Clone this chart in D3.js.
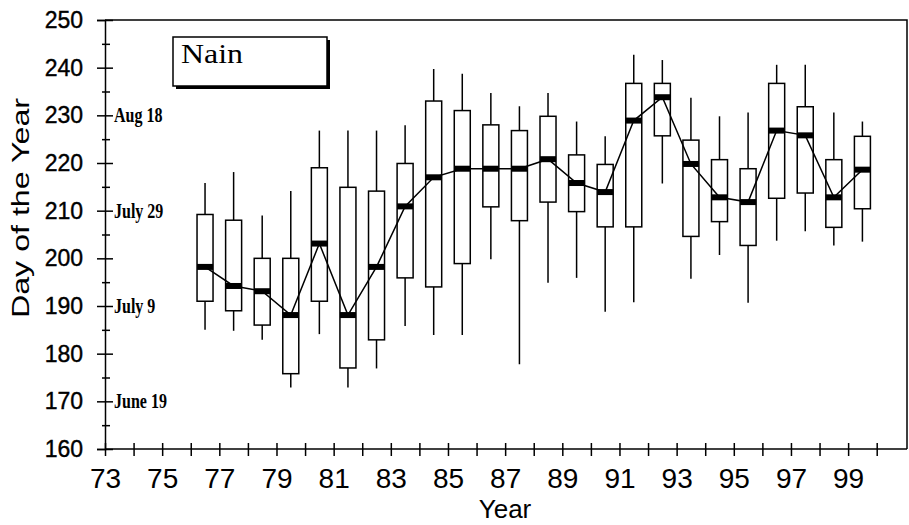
<!DOCTYPE html>
<html>
<head>
<meta charset="utf-8">
<script src="https://cdn.jsdelivr.net/npm/d3@7"></script>
<style>
  body { margin: 0; background: #fff; }
  svg { display: block; }
</style>
</head>
<body>
<script>
// box plot values, one entry per year
const years     = [76, 77, 78, 79, 80, 81, 82, 83, 84, 85, 86, 87, 88, 89, 90, 91, 92, 93, 94, 95, 96, 97, 98, 99];
const whiskerHi = [215.8, 218.1, 209.0, 214.1, 226.8, 226.8, 226.8, 227.9, 239.7, 238.7, 234.7, 231.9, 234.7, 228.7, 225.6, 242.7, 241.6, 233.7, 229.8, 230.6, 240.6, 240.6, 230.6, 228.7];
const boxHi     = [209.2, 208.0, 200.0, 200.0, 219.0, 214.9, 214.1, 219.9, 233.0, 231.0, 228.0, 226.8, 229.8, 221.7, 219.7, 236.7, 236.7, 224.8, 220.7, 218.8, 236.7, 231.8, 220.7, 225.6];
const medians   = [198.2, 194.2, 193.1, 188.1, 203.1, 188.1, 198.2, 210.9, 217.0, 218.8, 218.8, 218.8, 220.8, 215.8, 213.9, 228.9, 233.8, 219.8, 212.8, 211.8, 226.8, 225.8, 212.8, 218.6];
const boxLo     = [191.0, 189.0, 186.0, 175.8, 191.0, 177.0, 182.9, 195.9, 194.0, 198.9, 210.8, 207.9, 211.8, 209.8, 206.6, 206.6, 225.7, 204.6, 207.7, 202.7, 212.6, 213.7, 206.5, 210.4];
const whiskerLo = [185.0, 184.8, 182.9, 172.9, 184.1, 172.9, 176.9, 185.8, 183.9, 183.9, 199.8, 177.8, 194.9, 195.9, 188.8, 190.8, 215.7, 195.7, 200.7, 190.7, 203.7, 205.7, 202.7, 203.5];

const yTicks = [160, 170, 180, 190, 200, 210, 220, 230, 240, 250];
const yMinorTicks = [165, 175, 185, 195, 205, 215, 225, 235, 245];
const xTicks = d3.range(73, 101);
const xLabels = [73, 75, 77, 79, 81, 83, 85, 87, 89, 91, 93, 95, 97, 99];
const dateTicks = [230, 210, 190, 170];
const dateLabels = ['Aug 18', 'July 29', 'July 9', 'June 19'];

const w = 909,
      h = 525,
      mLeft = 105,
      mRight = 907,
      mTop = 20,
      mBottom = 449;

const svg = d3.select('body')
            .append('svg')
            .attr('width', w)
            .attr('height', h);

const xScale = d3.scaleLinear()
                .domain([73, 101.06])
                .range([mLeft, mRight]);
const yScale = d3.scaleLinear()
                .domain([160, 250])
                .range([mBottom, mTop]);

const data = years.map((yr, i) => ({
  yr: yr, hi: whiskerHi[i], q3: boxHi[i], med: medians[i], q1: boxLo[i], lo: whiskerLo[i]
}));

const boxW = xScale(73.56) - xScale(73);

// frame top and right
svg.append('path')
    .attr('d', 'M' + mLeft + ',' + mTop + 'H' + mRight + 'V' + mBottom)
    .attr('fill', 'none')
    .attr('stroke', '#000')
    .attr('stroke-width', 1.5);

// whiskers
svg.selectAll('line.whisker')
    .data(data)
    .enter()
    .append('line')
    .attr('class', 'whisker')
    .attr('x1', d => xScale(d.yr + 0.5))
    .attr('x2', d => xScale(d.yr + 0.5))
    .attr('y1', d => yScale(d.hi))
    .attr('y2', d => yScale(d.lo))
    .attr('stroke', '#000')
    .attr('stroke-width', 1.5);

// boxes
svg.selectAll('rect.box')
    .data(data)
    .enter()
    .append('rect')
    .attr('class', 'box')
    .attr('x', d => xScale(d.yr + 0.5) - boxW / 2)
    .attr('y', d => yScale(d.q3))
    .attr('width', boxW)
    .attr('height', d => yScale(d.q1) - yScale(d.q3))
    .attr('fill', '#fff')
    .attr('stroke', '#000')
    .attr('stroke-width', 1.5);

// median line
const line = d3.line()
    .x(d => xScale(d.yr + 0.5))
    .y(d => yScale(d.med));
svg.append('path')
    .datum(data)
    .attr('d', line)
    .attr('fill', 'none')
    .attr('stroke', '#000')
    .attr('stroke-width', 1.5);

// median markers
svg.selectAll('rect.med')
    .data(data)
    .enter()
    .append('rect')
    .attr('class', 'med')
    .attr('x', d => xScale(d.yr + 0.5) - boxW / 2)
    .attr('y', d => yScale(d.med) - 3)
    .attr('width', boxW)
    .attr('height', 6)
    .attr('fill', '#000');

// y axis
const yAxis = d3.axisLeft(yScale)
                .tickValues(yTicks)
                .tickSize(8)
                .tickPadding(14)
                .tickFormat(d3.format('d'));
const gy = svg.append('g')
    .attr('transform', 'translate(' + mLeft + ',0)')
    .call(yAxis);
gy.selectAll('line').attr('x1', 8).attr('x2', -8);
gy.selectAll('text')
    .attr('font-family', '"Liberation Sans", Arial, sans-serif')
    .attr('font-size', 23)
    .attr('stroke', '#000')
    .attr('stroke-width', 0.4)
    .attr('fill', '#000');

const yMinor = d3.axisLeft(yScale)
                .tickValues(yMinorTicks)
                .tickSize(3)
                .tickFormat('');
const gym = svg.append('g')
    .attr('transform', 'translate(' + mLeft + ',0)')
    .call(yMinor);
gym.select('.domain').remove();
gym.selectAll('line').attr('x1', 5).attr('x2', -3);

svg.selectAll('g .domain').attr('stroke-width', 1.5);
svg.selectAll('g .tick line').attr('stroke', '#000').attr('stroke-width', 1.5);

// date labels inside the plot
svg.selectAll('text.date')
    .data(dateTicks)
    .enter()
    .append('text')
    .attr('class', 'date')
    .attr('transform', d => 'translate(' + (mLeft + 9) + ',' + yScale(d) + ') scale(1,1.25)')
    .attr('dy', '0.35em')
    .attr('font-family', '"Liberation Serif", "Times New Roman", serif')
    .attr('font-weight', 'bold')
    .attr('font-size', 16)
    .text((d, i) => dateLabels[i]);

// x axis
const xAxis = d3.axisBottom(xScale)
                .tickValues(xTicks)
                .tickSize(7)
                .tickPadding(12)
                .tickFormat(d => xLabels.includes(d) ? d : '');
const gx = svg.append('g')
    .attr('transform', 'translate(0,' + mBottom + ')')
    .call(xAxis);
gx.select('.domain').attr('d', 'M' + mLeft + ',0H' + mRight).attr('stroke-width', 1.5);
gx.selectAll('line').attr('y1', -6).attr('y2', 7).attr('stroke', '#000').attr('stroke-width', 1.5);
gx.selectAll('text')
    .attr('font-family', '"Liberation Sans", Arial, sans-serif')
    .attr('font-size', 28)
    .attr('fill', '#000');

// axis titles
svg.append('text')
    .attr('x', 505)
    .attr('y', 518)
    .attr('text-anchor', 'middle')
    .attr('font-family', '"Liberation Sans", Arial, sans-serif')
    .attr('font-size', 26)
    .text('Year');

svg.append('text')
    .attr('transform', 'translate(29,208) rotate(-90)')
    .attr('text-anchor', 'middle')
    .attr('font-family', '"Liberation Sans", Arial, sans-serif')
    .attr('font-size', 23)
    .attr('textLength', 220)
    .attr('lengthAdjust', 'spacingAndGlyphs')
    .text('Day of the Year');

// station label box with shadow
svg.append('rect')
    .attr('x', 176)
    .attr('y', 40)
    .attr('width', 154)
    .attr('height', 49)
    .attr('fill', '#000');
svg.append('rect')
    .attr('x', 173)
    .attr('y', 37)
    .attr('width', 154)
    .attr('height', 49)
    .attr('fill', '#fff')
    .attr('stroke', '#000')
    .attr('stroke-width', 1.5);
svg.append('text')
    .attr('x', 181)
    .attr('y', 63)
    .attr('font-family', '"Liberation Serif", "Times New Roman", serif')
    .attr('font-size', 28)
    .attr('textLength', 62)
    .attr('lengthAdjust', 'spacingAndGlyphs')
    .text('Nain');
</script>
</body>
</html>
